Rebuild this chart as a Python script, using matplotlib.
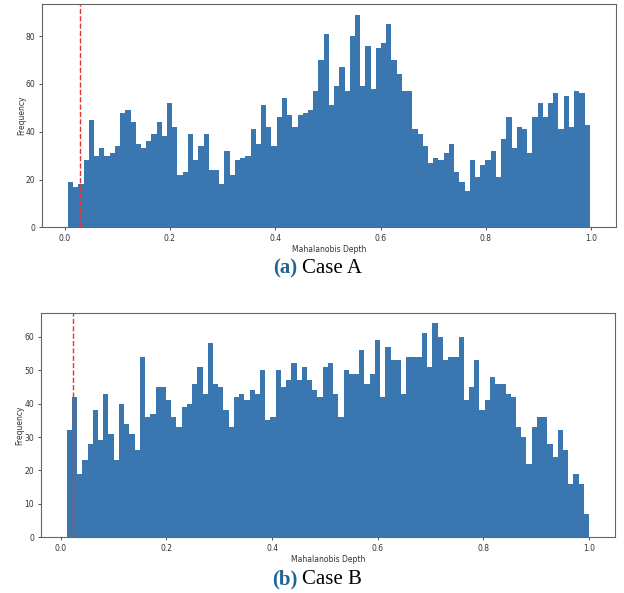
import numpy as np
import matplotlib
matplotlib.use('Agg')
import matplotlib.pyplot as plt

# histogram counts (100 bins each)
counts_a = [19, 17, 18, 28, 45, 30, 33, 30, 31, 34,
            48, 49, 44, 35, 33, 36, 39, 44, 38, 52,
            42, 22, 23, 39, 28, 34, 39, 24, 24, 18,
            32, 22, 28, 29, 30, 41, 35, 51, 42, 34,
            46, 54, 47, 42, 47, 48, 49, 57, 70, 81,
            51, 59, 67, 57, 80, 89, 59, 76, 58, 75,
            77, 85, 70, 64, 57, 57, 41, 39, 34, 27,
            29, 28, 31, 35, 23, 19, 15, 28, 21, 26,
            28, 32, 21, 37, 46, 33, 42, 41, 31, 46,
            52, 46, 52, 56, 41, 55, 42, 57, 56, 43]
counts_b = [32, 42, 19, 23, 28, 38, 29, 43, 31, 23,
            40, 34, 31, 26, 54, 36, 37, 45, 45, 41,
            36, 33, 39, 40, 46, 51, 43, 58, 46, 45,
            38, 33, 42, 43, 41, 44, 43, 50, 35, 36,
            50, 45, 47, 52, 47, 51, 47, 44, 42, 51,
            52, 43, 36, 50, 49, 49, 56, 46, 49, 59,
            42, 57, 53, 53, 43, 54, 54, 54, 61, 51,
            64, 60, 53, 54, 54, 60, 41, 45, 53, 38,
            41, 48, 46, 46, 43, 42, 33, 30, 22, 33,
            36, 36, 28, 24, 32, 26, 16, 19, 16, 7]
range_a = (0.0063, 0.9975)
range_b = (0.0113, 1.0)
threshold_a = 0.030
threshold_b = 0.023
captions = [('(a)', 'Case A'), ('(b)', 'Case B')]

bar_color = '#3a77b0'
fig = plt.figure(figsize=(6.24, 5.93), dpi=100)
ax_a = fig.add_axes([0.067, 0.6167, 0.920, 0.3766])
ax_b = fig.add_axes([0.065, 0.0939, 0.921, 0.3788])

for ax, counts, rng, thr in [(ax_a, counts_a, range_a, threshold_a),
                             (ax_b, counts_b, range_b, threshold_b)]:
    edges = np.linspace(rng[0], rng[1], len(counts) + 1)
    ax.hist(edges[:-1], bins=edges, weights=counts, color=bar_color)
    ax.axvline(thr, color='#e8322b', linestyle='--', linewidth=1.0)
    ax.set_xticks([0.0, 0.2, 0.4, 0.6, 0.8, 1.0])
    ax.set_xlabel('Mahalanobis Depth', fontsize=5.5, color='#333333', labelpad=1.5)
    ax.set_ylabel('Frequency', fontsize=5.5, color='#333333', labelpad=0)
    ax.tick_params(labelsize=5.5, colors='#333333', length=2.5, width=0.6, pad=2)
    for s in ax.spines.values():
        s.set_color('#666666')
        s.set_linewidth(0.8)

# captions below each panel
for (tag, name), y in zip(captions, [0.547, 0.022]):
    fig.text(0.476, y, tag, ha='right', va='center', fontsize=15,
             family='Liberation Serif', weight='bold', color='#1f6496')
    fig.text(0.484, y, name, ha='left', va='center', fontsize=15,
             family='Liberation Serif', color='black')

fig.savefig('out.png', dpi=100)
